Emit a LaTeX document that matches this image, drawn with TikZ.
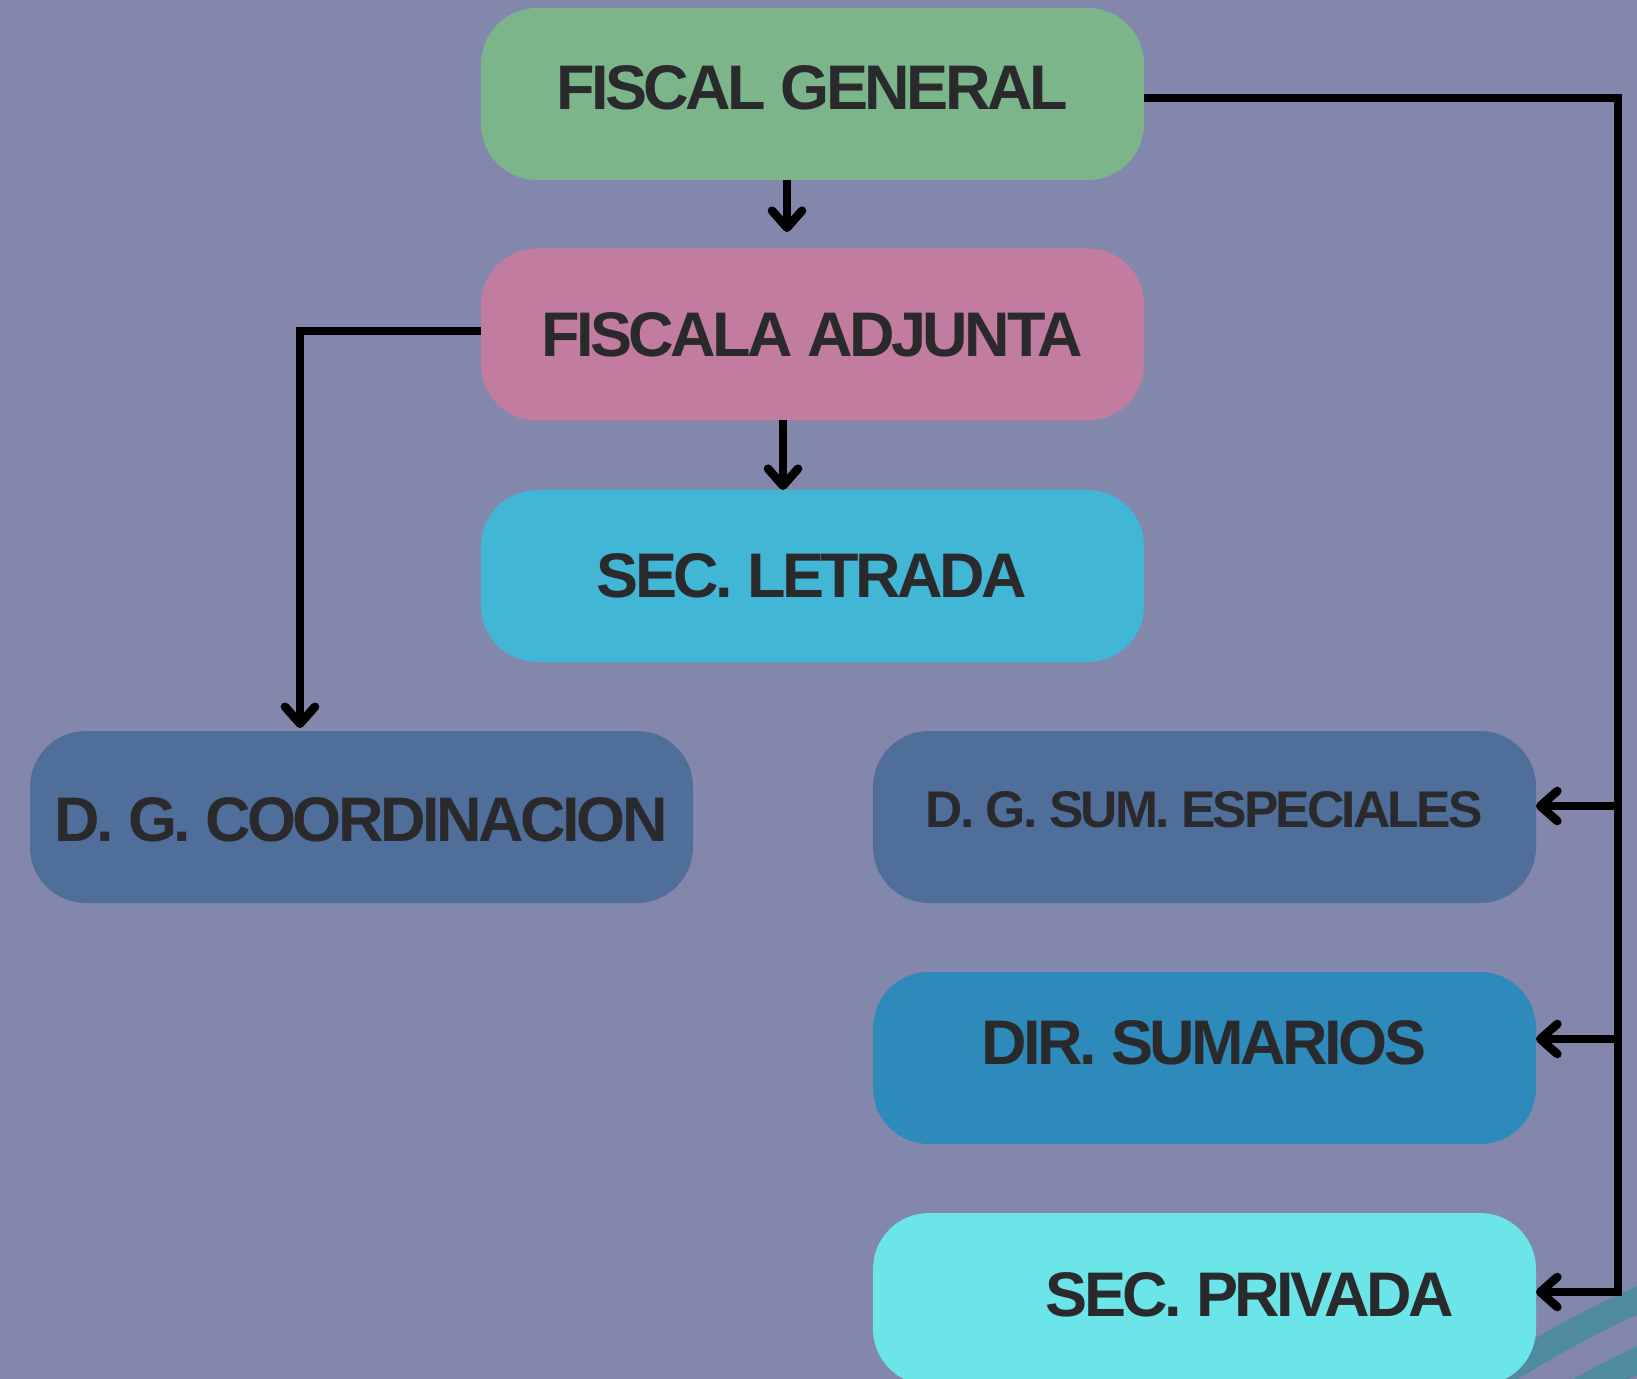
\documentclass[tikz,border=0pt]{standalone}
\usepackage{fontspec}
\setmainfont{Liberation Sans}[LetterSpace=-5.5]
\usetikzlibrary{arrows.meta}
\definecolor{fondo}{HTML}{8387AB}
\definecolor{verde}{HTML}{7CB58A}
\definecolor{rosa}{HTML}{C27C9F}
\definecolor{celeste}{HTML}{42B6D5}
\definecolor{azul}{HTML}{4F6E9A}
\definecolor{azulmed}{HTML}{2D8ABA}
\definecolor{turquesa}{HTML}{6BE5E8}
\definecolor{franja}{HTML}{4E8B9E}
\definecolor{tinta}{HTML}{2A2A2D}
\begin{document}
\begin{tikzpicture}[x=0.5pt,y=-0.5pt,line width=4.3pt,
	>={Straight Barb[length=8.5pt,width=15pt,round]},
	caja/.style={rounded corners=28pt,minimum width=331.5pt,minimum height=86pt,inner sep=0pt,outer sep=0pt},
	rotulo/.style={anchor=base,inner sep=0pt,text=tinta,font=\fontsize{31.5}{36}\selectfont\bfseries}]
\clip (0,0) rectangle (1637,1379);
\fill[fondo] (0,0) rectangle (1637,1379);
% franjas de la esquina
\draw[franja,line width=13pt] (1460,1400) .. controls (1530,1355) and (1580,1325) .. (1660,1290);
\draw[franja,line width=13pt] (1565,1400) .. controls (1600,1378) .. (1660,1350);
% cajas
\node[caja,fill=verde] (fg) at (812.5,94) {};
\node[caja,fill=rosa] (fa) at (812.5,334.5) {};
\node[caja,fill=celeste] (sl) at (812.5,576) {};
\node[caja,fill=azul] (dgc) at (361.5,817) {};
\node[caja,fill=azul] (dgse) at (1204.5,817) {};
\node[caja,fill=azulmed] (dir) at (1204.5,1058) {};
\node[caja,fill=turquesa] (sp) at (1204.5,1299) {};
% textos
\node[rotulo] (fgt) at (812,110) {FISCAL GENERAL};
\node[rotulo] (fat) at (812,357) {FISCALA ADJUNTA};
\node[rotulo] (slt) at (812,597) {SEC. LETRADA};
\node[rotulo] (dgct) at (361,841) {D. G. COORDINACION};
\node[rotulo,font=\fontsize{25.8}{30}\selectfont\bfseries] (dgset) at (1204,827) {D. G. SUM. ESPECIALES};
\node[rotulo] (dirt) at (1204,1064) {DIR. SUMARIOS};
\node[rotulo] (spt) at (1250,1316) {SEC. PRIVADA};
% conectores
\coordinate (a1) at (787,232);
\draw[->] (a1 |- fg.south) -- (a1);
\draw[->] ([xshift=-14.75pt]fa.south) -- ([xshift=-14.75pt]sl.north);
\coordinate (k2) at (300,728);
\draw[->] ([yshift=1.75pt]fa.west) -| (k2);
\coordinate (k3) at (1618,1292);
\draw[->] ([yshift=-2pt]fg.east) -| (k3) -- (k3 -| sp.east);
\foreach \n/\s in {dgse/5.5pt,dir/9.5pt}{
	\draw[->] ([yshift=\s]\n.east -| k3) -- ([yshift=\s]\n.east);
}
\end{tikzpicture}
\end{document}
